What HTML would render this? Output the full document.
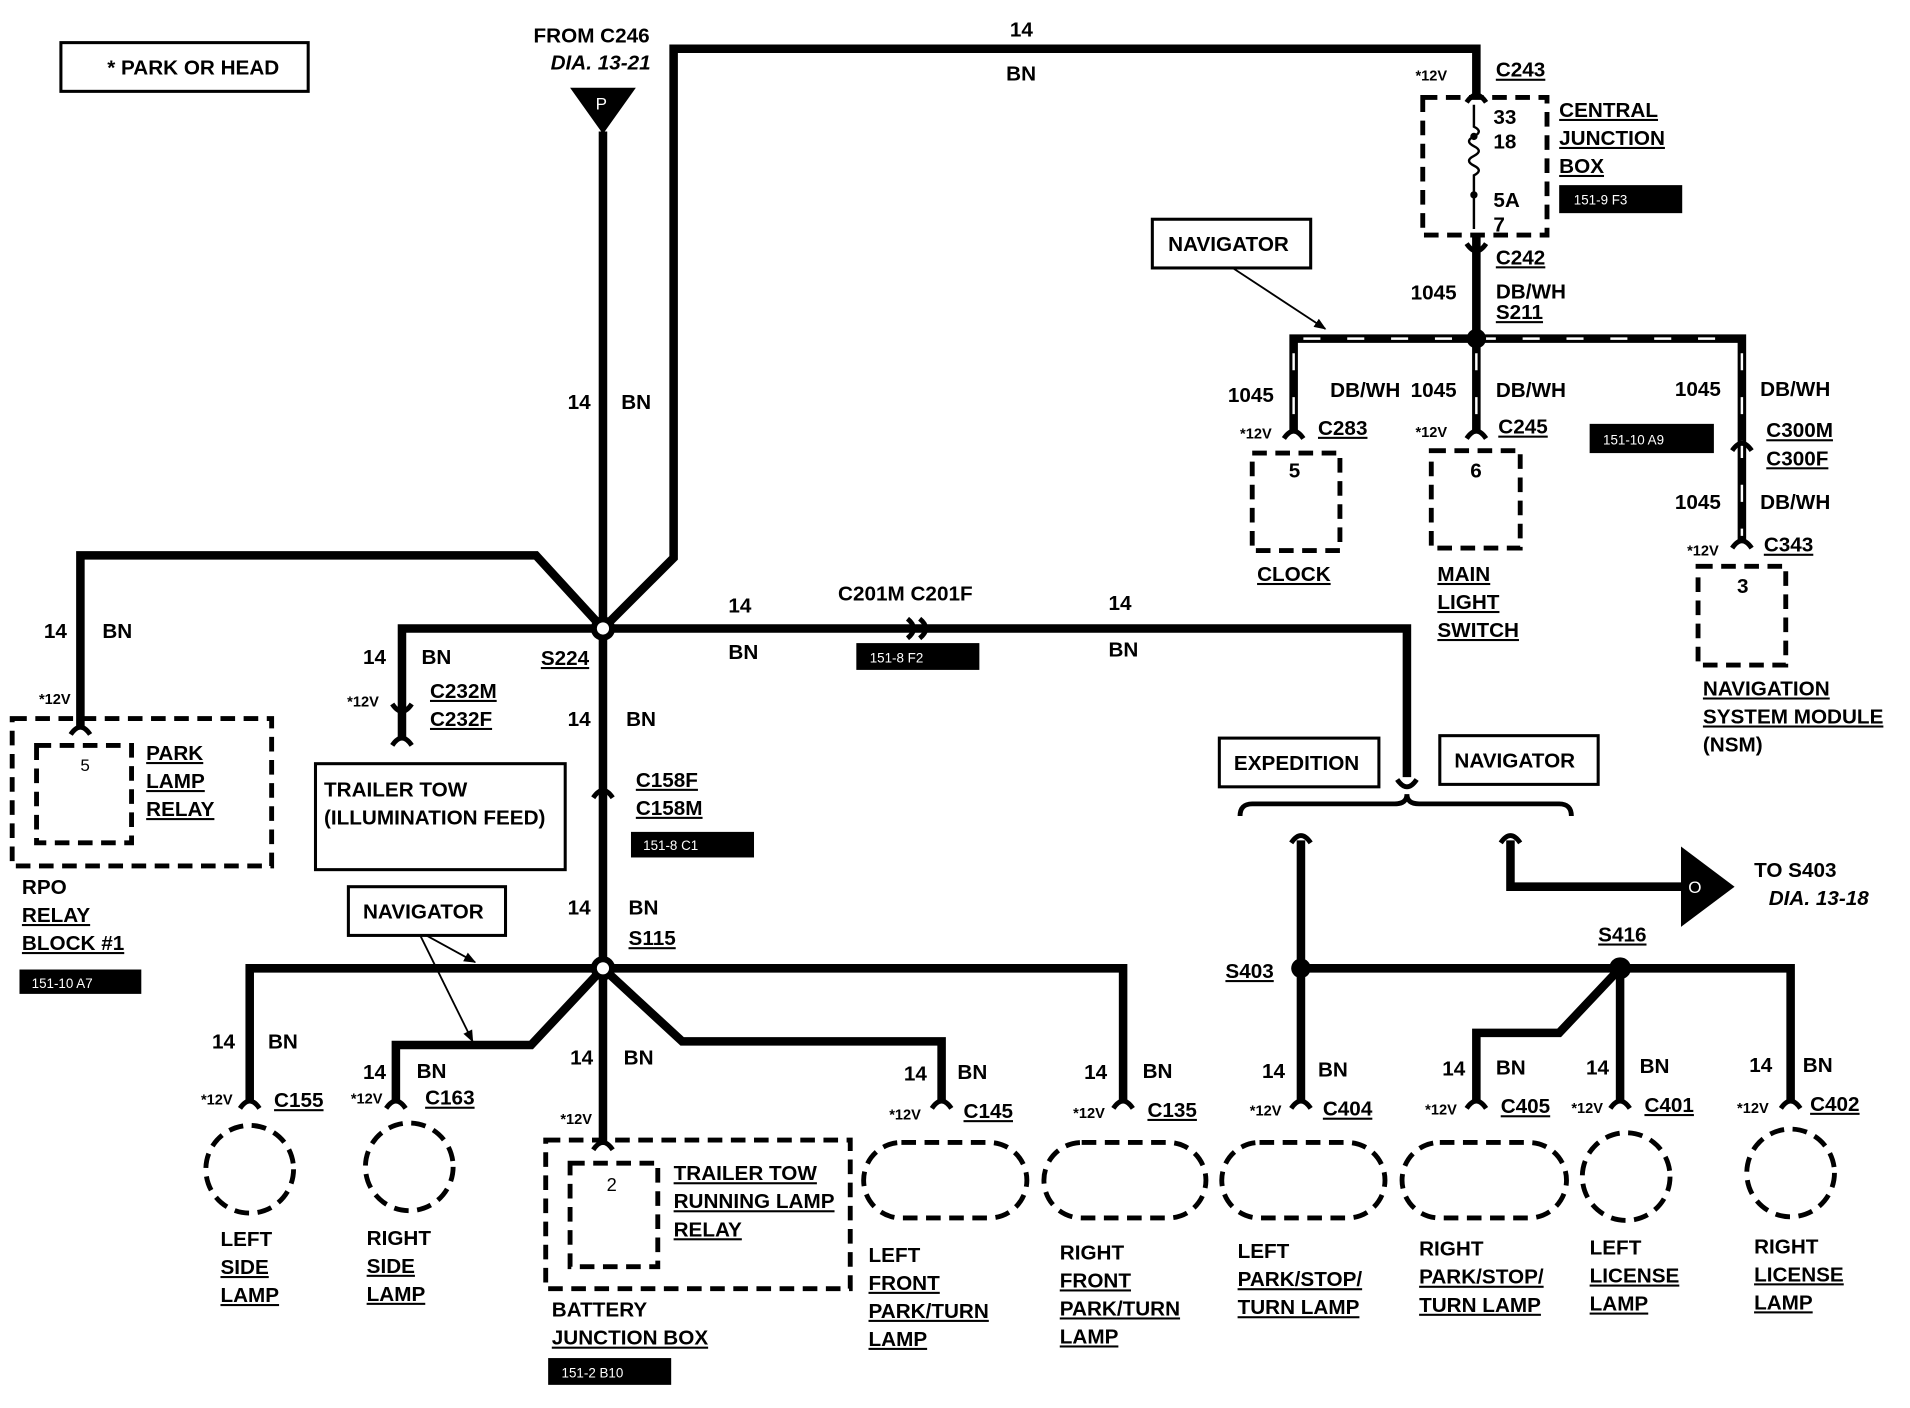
<!DOCTYPE html>
<html><head><meta charset="utf-8"><style>
html,body{margin:0;padding:0;background:#fff}
svg{display:block}
text{font-family:"Liberation Sans",sans-serif;font-weight:bold;font-size:17px;fill:#000}
.u{text-decoration:underline}
.s{font-size:12px}
.w{fill:#fff;font-size:11px;font-weight:normal}
.i{font-style:italic}
</style></head><body>
<svg width="1910" height="1408" viewBox="0 0 1568 1156" preserveAspectRatio="none" xmlns="http://www.w3.org/2000/svg">
<defs>
<marker id="ah" markerWidth="10" markerHeight="10" refX="9" refY="5" orient="auto" markerUnits="userSpaceOnUse"><path d="M0,1 L10,5 L0,9 z" fill="#000"/></marker>
</defs>
<g fill="none" stroke="#000" stroke-width="7" stroke-linejoin="miter">
<!-- main vertical -->
<path d="M495,108 V940"/>
<path d="M495,516 L553,458 V40 H1212 V78"/>
<path d="M495,516 L440,456 H66 V598"/>
<path d="M495,516 H330 V608"/>
<path d="M495,516 H1155 V638"/>
<path d="M1212,195 V355"/>
<path d="M1062,355 V278 H1430 V445"/>
<path d="M1068,690 V905"/>
<path d="M1240,690 V728 H1390"/>
<path d="M1068,795 H1470 V905"/>
<path d="M1330,795 L1280,848 H1212 V905"/>
<path d="M1330,795 V905"/>
<path d="M205,905 V795 H922 V905"/>
<path d="M495,795 L436,858 H325 V905"/>
<path d="M495,795 L560,855 H773 V905"/>
</g>
<!-- white dashes on navigator branch -->
<g stroke="#fff" stroke-width="2" stroke-dasharray="14 22">
<path d="M1070,278 H1425"/><path d="M1212,290 V350"/><path d="M1430,290 V440"/><path d="M1062,290 V350"/>
</g>
<!-- connector arches -->
<g fill="none" stroke="#000" stroke-width="4">
<path d="M1204,84 q8,-12 16,0"/><path d="M1204,200 q8,12 16,0"/>
<path d="M1054,360 q8,-12 16,0"/><path d="M1204,360 q8,-12 16,0"/>
<path d="M1422,370 q8,-12 16,0"/><path d="M1422,450 q8,-12 16,0"/>
<path d="M58,603 q8,-12 16,0"/><path d="M322,612 q8,-12 16,0"/><path d="M322,578 q8,12 16,0"/>
<path d="M487,655 q8,-12 16,0"/>
<path d="M745,508 q10,8 0,16"/><path d="M755,508 q10,8 0,16"/>
<path d="M1147,640 q8,12 16,0"/>
<path d="M1060,692 q8,-12 16,0"/><path d="M1232,692 q8,-12 16,0"/>
<path d="M197,910 q8,-12 16,0"/><path d="M317,910 q8,-12 16,0"/><path d="M487,944 q8,-12 16,0"/>
<path d="M765,910 q8,-12 16,0"/><path d="M914,910 q8,-12 16,0"/>
<path d="M1060,910 q8,-12 16,0"/><path d="M1204,910 q8,-12 16,0"/><path d="M1322,910 q8,-12 16,0"/><path d="M1462,910 q8,-12 16,0"/>
<path d="M1018,670 q0,-10 10,-10 H1145 q10,0 10,-8 q0,8 10,8 H1280 q10,0 10,10"/>
</g>
<!-- splice dots -->
<circle cx="495" cy="516" r="10" fill="#000"/><circle cx="495" cy="516" r="5" fill="#fff"/>
<circle cx="495" cy="795" r="10" fill="#000"/><circle cx="495" cy="795" r="5" fill="#fff"/>
<circle cx="1212" cy="278" r="8" fill="#000"/><circle cx="1068" cy="795" r="8" fill="#000"/><circle cx="1330" cy="795" r="9" fill="#000"/>
<!-- triangles -->
<path d="M468,72 H522 L495,110 z" fill="#000"/><text x="489" y="90" fill="#fff" style="fill:#fff;font-weight:normal;font-size:14px">P</text>
<path d="M1380,695 L1424,728 L1380,761 z" fill="#000"/><text x="1386" y="733" style="fill:#fff;font-weight:normal;font-size:14px">O</text>
<!-- boxes solid -->
<g fill="#fff" stroke="#000" stroke-width="2.5">
<rect x="50" y="35" width="203" height="40"/>
<rect x="946" y="180" width="130" height="40"/>
<rect x="259" y="627" width="205" height="87"/>
<rect x="1001" y="606" width="131" height="40"/>
<rect x="1182" y="604" width="130" height="40"/>
<rect x="286" y="728" width="129" height="40"/>
</g>
<g stroke="#000" stroke-width="1.5" marker-end="url(#ah)">
<path d="M1012,220 L1088,270"/><path d="M350,768 L390,790"/><path d="M345,768 L388,855"/>
</g>
<!-- dashed boxes -->
<g fill="none" stroke="#000" stroke-width="4" stroke-dasharray="12 7">
<rect x="1168" y="80" width="102" height="113"/>
<rect x="1028" y="372" width="72" height="80"/>
<rect x="1175" y="370" width="73" height="80"/>
<rect x="1394" y="465" width="72" height="81"/>
<rect x="10" y="590" width="213" height="121"/>
<rect x="30" y="612" width="78" height="80"/>
<rect x="448" y="936" width="250" height="122"/>
<rect x="468" y="955" width="72" height="85"/>
<circle cx="205" cy="960" r="36"/><circle cx="336" cy="958" r="36"/>
<circle cx="1335" cy="966" r="36"/><circle cx="1470" cy="963" r="36"/>
<rect x="709" y="938" width="134" height="62" rx="31"/>
<rect x="857" y="938" width="133" height="62" rx="31"/>
<rect x="1003" y="938" width="134" height="62" rx="31"/>
<rect x="1151" y="938" width="135" height="62" rx="31"/>
</g>
<!-- fuse -->
<path d="M1210,86 V104 q8,4 0,8 q-8,4 0,8 q8,4 0,8 q-8,4 0,8 q8,4 0,8 V188" fill="none" stroke="#000" stroke-width="2"/>
<circle cx="1210" cy="112" r="3"/><circle cx="1210" cy="160" r="3"/>
<!-- black labels -->
<g fill="#000">
<rect x="1280" y="152" width="101" height="23"/><rect x="1305" y="348" width="102" height="24"/>
<rect x="16" y="796" width="100" height="20"/><rect x="518" y="683" width="101" height="21"/>
<rect x="703" y="528" width="101" height="22"/><rect x="450" y="1115" width="101" height="22"/>
</g>
<text class="w" x="1292" y="168">151-9 F3</text><text class="w" x="1316" y="365">151-10 A9</text>
<text class="w" x="26" y="811">151-10 A7</text><text class="w" x="528" y="698">151-8 C1</text>
<text class="w" x="714" y="544">151-8 F2</text><text class="w" x="461" y="1131">151-2 B10</text>
<!-- text -->
<text x="88" y="61">* PARK OR HEAD</text>
<text x="438" y="35">FROM C246</text><text class="i" x="452" y="57">DIA. 13-21</text>
<text x="829" y="30">14</text><text x="826" y="66">BN</text>
<text class="s" x="1162" y="66">*12V</text><text class="u" x="1228" y="63">C243</text>
<text x="1226" y="102">33</text><text x="1226" y="122">18</text><text x="1226" y="170">5A</text><text x="1226" y="190">7</text>
<text class="u" x="1280" y="96">CENTRAL</text><text class="u" x="1280" y="119">JUNCTION</text><text class="u" x="1280" y="142">BOX</text>
<text x="959" y="206">NAVIGATOR</text>
<text class="u" x="1228" y="217">C242</text><text x="1158" y="246">1045</text><text x="1228" y="245">DB/WH</text><text class="u" x="1228" y="262">S211</text>
<text x="1008" y="330">1045</text><text x="1092" y="326">DB/WH</text><text x="1158" y="326">1045</text><text x="1228" y="326">DB/WH</text>
<text x="1375" y="325">1045</text><text x="1445" y="325">DB/WH</text>
<text class="s" x="1018" y="360">*12V</text><text class="u" x="1082" y="357">C283</text>
<text class="s" x="1162" y="359">*12V</text><text class="u" x="1230" y="356">C245</text>
<text class="u" x="1450" y="359">C300M</text><text class="u" x="1450" y="382">C300F</text>
<text x="1375" y="418">1045</text><text x="1445" y="418">DB/WH</text>
<text class="s" x="1385" y="456">*12V</text><text class="u" x="1448" y="453">C343</text>
<text x="1058" y="392">5</text><text x="1207" y="392">6</text><text x="1426" y="487">3</text>
<text class="u" x="1032" y="477">CLOCK</text>
<text class="u" x="1180" y="477">MAIN</text><text class="u" x="1180" y="500">LIGHT</text><text class="u" x="1180" y="523">SWITCH</text>
<text class="u" x="1398" y="571">NAVIGATION</text><text class="u" x="1398" y="594">SYSTEM MODULE</text><text x="1398" y="617">(NSM)</text>
<text x="466" y="336">14</text><text x="510" y="336">BN</text>
<text x="36" y="524">14</text><text x="84" y="524">BN</text><text class="s" x="32" y="578">*12V</text>
<text x="66" y="633" style="font-weight:normal;font-size:14px">5</text>
<text class="u" x="120" y="624">PARK</text><text class="u" x="120" y="647">LAMP</text><text class="u" x="120" y="670">RELAY</text>
<text x="18" y="734">RPO</text><text class="u" x="18" y="757">RELAY</text><text class="u" x="18" y="780">BLOCK #1</text>
<text x="298" y="545">14</text><text x="346" y="545">BN</text><text class="s" x="285" y="580">*12V</text>
<text class="u" x="353" y="573">C232M</text><text class="u" x="353" y="596">C232F</text>
<text x="266" y="654">TRAILER TOW</text><text x="266" y="677">(ILLUMINATION FEED)</text>
<text class="u" x="444" y="546">S224</text><text x="466" y="596">14</text><text x="514" y="596">BN</text>
<text class="u" x="522" y="646">C158F</text><text class="u" x="522" y="669">C158M</text>
<text x="598" y="503">14</text><text x="598" y="541">BN</text><text x="688" y="493">C201M C201F</text>
<text x="910" y="501">14</text><text x="910" y="539">BN</text>
<text x="1013" y="632">EXPEDITION</text><text x="1194" y="630">NAVIGATOR</text>
<text x="1440" y="720">TO S403</text><text class="i" x="1452" y="743">DIA. 13-18</text>
<text class="u" x="1006" y="803">S403</text><text class="u" x="1312" y="773">S416</text>
<text x="466" y="751">14</text><text x="516" y="751">BN</text><text class="u" x="516" y="776">S115</text>
<text x="298" y="754">NAVIGATOR</text>
<text x="174" y="861">14</text><text x="220" y="861">BN</text><text class="s" x="165" y="907">*12V</text><text class="u" x="225" y="909">C155</text>
<text x="298" y="886">14</text><text x="342" y="885">BN</text><text class="s" x="288" y="906">*12V</text><text class="u" x="349" y="907">C163</text>
<text x="468" y="874">14</text><text x="512" y="874">BN</text><text class="s" x="460" y="923">*12V</text>
<text x="742" y="887">14</text><text x="786" y="886">BN</text><text class="s" x="730" y="919">*12V</text><text class="u" x="791" y="918">C145</text>
<text x="890" y="886">14</text><text x="938" y="885">BN</text><text class="s" x="881" y="918">*12V</text><text class="u" x="942" y="917">C135</text>
<text x="1036" y="885">14</text><text x="1082" y="884">BN</text><text class="s" x="1026" y="916">*12V</text><text class="u" x="1086" y="916">C404</text>
<text x="1184" y="883">14</text><text x="1228" y="882">BN</text><text class="s" x="1170" y="915">*12V</text><text class="u" x="1232" y="914">C405</text>
<text x="1302" y="882">14</text><text x="1346" y="881">BN</text><text class="s" x="1290" y="914">*12V</text><text class="u" x="1350" y="913">C401</text>
<text x="1436" y="880">14</text><text x="1480" y="880">BN</text><text class="s" x="1426" y="914">*12V</text><text class="u" x="1486" y="912">C402</text>
<text x="498" y="978" style="font-weight:normal;font-size:15px">2</text>
<text class="u" x="553" y="969">TRAILER TOW</text><text class="u" x="553" y="992">RUNNING LAMP</text><text class="u" x="553" y="1015">RELAY</text>
<text x="453" y="1081">BATTERY</text><text class="u" x="453" y="1104">JUNCTION BOX</text>
<text x="181" y="1023">LEFT</text><text class="u" x="181" y="1046">SIDE</text><text class="u" x="181" y="1069">LAMP</text>
<text x="301" y="1022">RIGHT</text><text class="u" x="301" y="1045">SIDE</text><text class="u" x="301" y="1068">LAMP</text>
<text x="713" y="1036">LEFT</text><text class="u" x="713" y="1059">FRONT</text><text class="u" x="713" y="1082">PARK/TURN</text><text class="u" x="713" y="1105">LAMP</text>
<text x="870" y="1034">RIGHT</text><text class="u" x="870" y="1057">FRONT</text><text class="u" x="870" y="1080">PARK/TURN</text><text class="u" x="870" y="1103">LAMP</text>
<text x="1016" y="1033">LEFT</text><text class="u" x="1016" y="1056">PARK/STOP/</text><text class="u" x="1016" y="1079">TURN LAMP</text>
<text x="1165" y="1031">RIGHT</text><text class="u" x="1165" y="1054">PARK/STOP/</text><text class="u" x="1165" y="1077">TURN LAMP</text>
<text x="1305" y="1030">LEFT</text><text class="u" x="1305" y="1053">LICENSE</text><text class="u" x="1305" y="1076">LAMP</text>
<text x="1440" y="1029">RIGHT</text><text class="u" x="1440" y="1052">LICENSE</text><text class="u" x="1440" y="1075">LAMP</text>
</svg>
</body></html>
